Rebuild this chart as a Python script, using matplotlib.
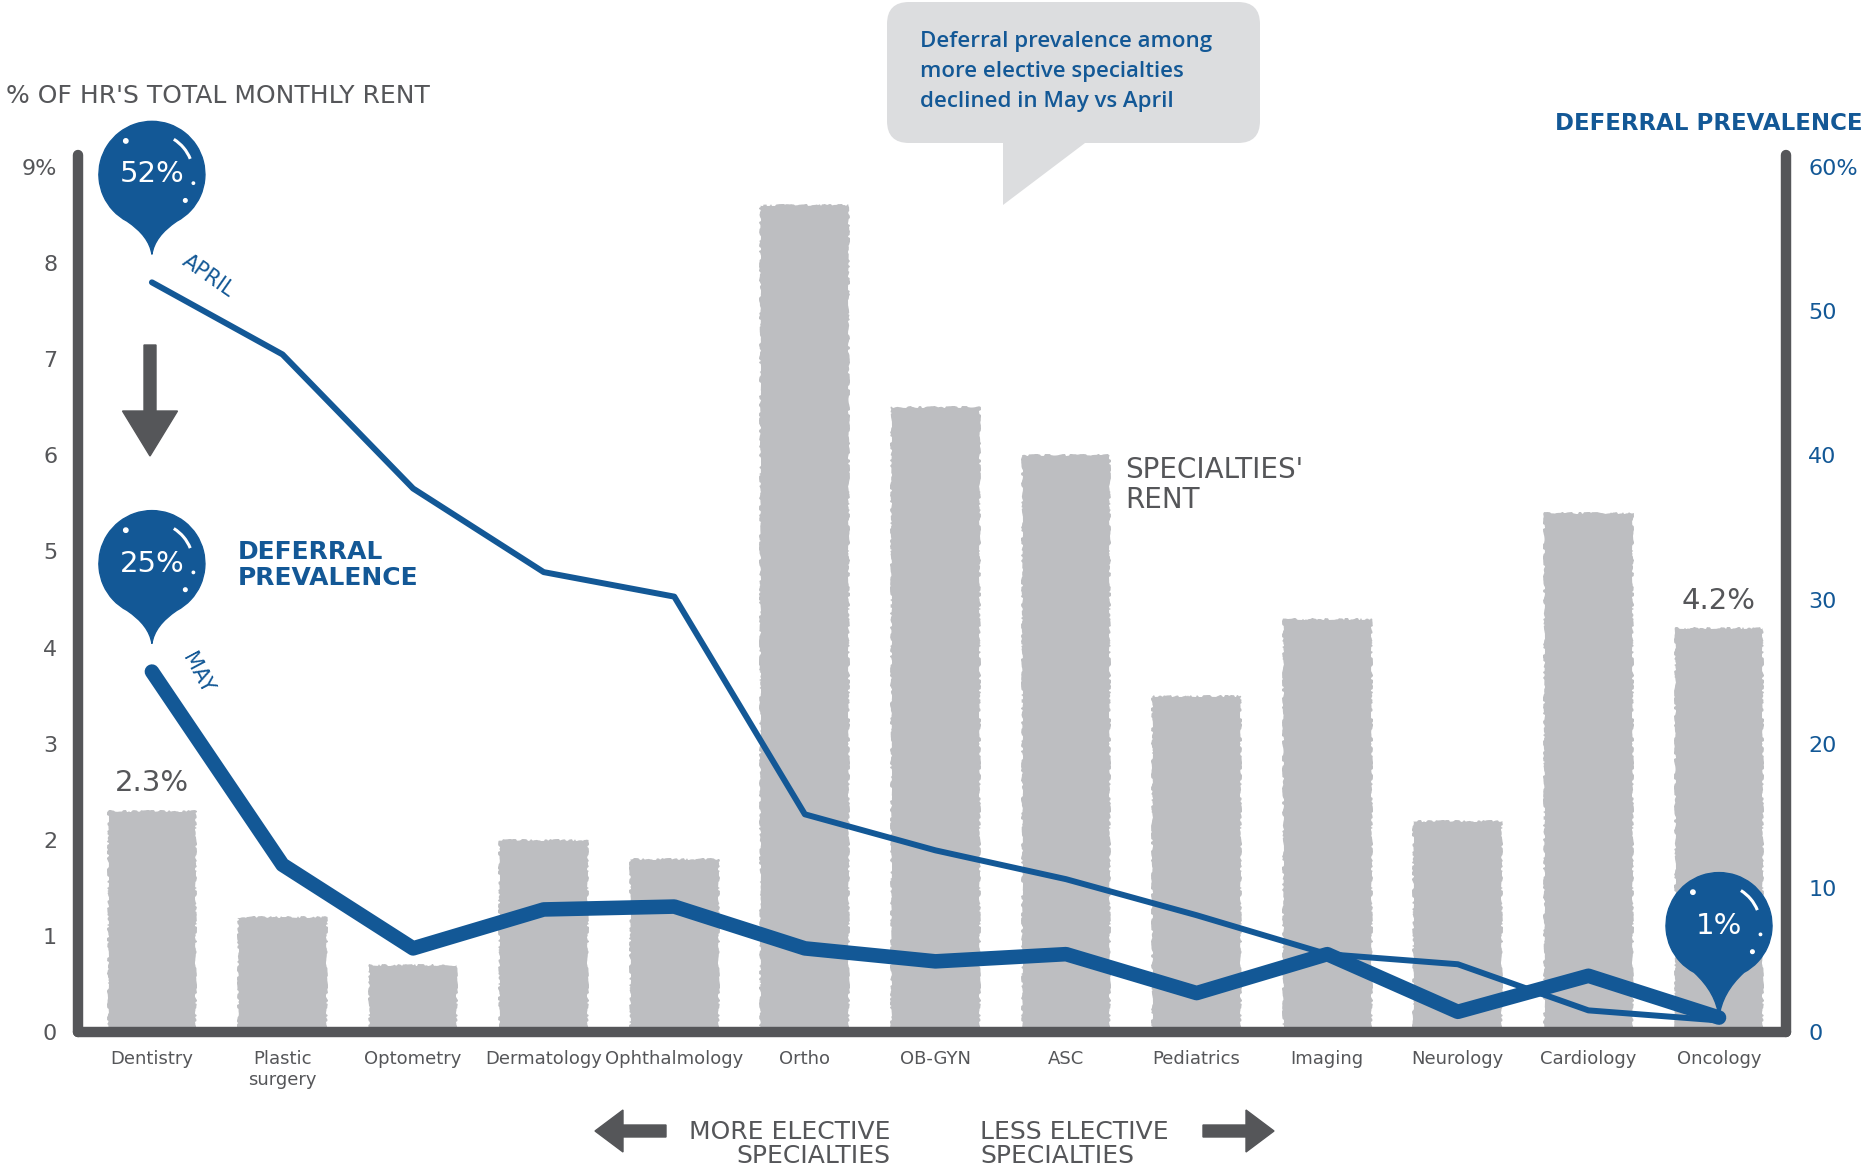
import matplotlib
matplotlib.use("Agg")
import numpy as np
import matplotlib.pyplot as plt
import matplotlib.transforms as mtransforms
from matplotlib.path import Path
from matplotlib.patches import PathPatch, FancyBboxPatch, Polygon, FancyArrow, Arc, Circle

# ---------------------------------------------------------------- data
specialties = ["Dentistry", "Plastic\nsurgery", "Optometry", "Dermatology",
               "Ophthalmology", "Ortho", "OB-GYN", "ASC", "Pediatrics",
               "Imaging", "Neurology", "Cardiology", "Oncology"]
rent_share = [2.3, 1.2, 0.7, 2.0, 1.8, 8.6, 6.5, 6.0, 3.5, 4.3, 2.2, 5.4, 4.2]
deferral_april = [52, 47.0, 37.7, 31.9, 30.2, 15.1, 12.6, 10.6, 8.1, 5.4, 4.7, 1.5, 0.8]
deferral_may = [25, 11.6, 5.8, 8.5, 8.7, 5.8, 4.9, 5.4, 2.7, 5.4, 1.4, 3.9, 1]
rent_ticks = list(range(10))
rent_tick_labels = ["0", "1", "2", "3", "4", "5", "6", "7", "8", "9%"]
deferral_ticks = [0, 10, 20, 30, 40, 50, 60]
deferral_tick_labels = ["0", "10", "20", "30", "40", "50", "60%"]

# ---------------------------------------------------------------- style
BLUE = "#135896"
DARK = "#555659"
BAR = "#BDBEC1"
BOX = "#DCDDDF"
plt.rcParams["font.family"] = ["DejaVu Sans"]

W, H = 1867, 1173
fig = plt.figure(figsize=(W / 100, H / 100), dpi=100)


def fx(px):
    return px / W


def fy(py):
    return 1 - py / H


ax = fig.add_axes([fx(78), fy(1032), fx(1786) - fx(78), fy(155) - fy(1032)])
x = np.arange(len(specialties))
ax.set_xlim(-0.566, 12.513)
rent_top = 9.125
ax.set_ylim(0, rent_top)

bars = ax.bar(x, rent_share, width=0.68, color=BAR, zorder=2)
for b in bars:
    b.set_sketch_params(scale=1.0, length=25, randomness=30)

for s in ["top", "right"]:
    ax.spines[s].set_visible(False)
for s in ["left", "bottom"]:
    ax.spines[s].set_linewidth(7.5)
    ax.spines[s].set_color(DARK)
    ax.spines[s].set_capstyle("round")
    ax.spines[s].set_zorder(5)

ax.set_yticks(rent_ticks, rent_tick_labels)
ax.set_xticks(x, specialties)
ax.tick_params(axis="y", length=0, pad=15, labelsize=16, labelcolor=DARK)
ax.tick_params(axis="x", length=0, pad=13, labelsize=13, labelcolor=DARK)
for lab in ax.get_xticklabels():
    lab.set_multialignment("center")

# value labels on first and last bars
for i in (0, len(rent_share) - 1):
    ax.annotate(f"{rent_share[i]}%", xy=(x[i], rent_share[i]), xytext=(0, 20),
                textcoords="offset points", ha="center", va="center",
                fontsize=21, color=DARK)

# ---------------------------------------------------------------- deferral lines
ax2 = ax.twinx()
ax2.set_ylim(0, rent_top * 60 / 9)
for s in ["top", "left", "bottom"]:
    ax2.spines[s].set_visible(False)
ax2.spines["right"].set_linewidth(7.5)
ax2.spines["right"].set_color(DARK)
ax2.spines["right"].set_capstyle("round")
ax2.set_yticks(deferral_ticks, deferral_tick_labels)
ax2.tick_params(axis="y", length=0, pad=16, labelsize=16, labelcolor=BLUE)

ax2.plot(x, deferral_may, color=BLUE, lw=10.5, solid_capstyle="round",
         solid_joinstyle="round", zorder=3)
ax2.plot(x, deferral_april, color=BLUE, lw=4.3, solid_capstyle="round",
         solid_joinstyle="round", zorder=4)


def pin_outline(r, c):
    """Teardrop outline in inches, tip at the origin, bulb centred at (0, c)."""
    a_r, a_l = -62, 242
    arc = Path.arc(a_r, a_l)
    verts = arc.vertices * r + np.array([0, c])
    pr = (r * np.cos(np.deg2rad(a_r)), c + r * np.sin(np.deg2rad(a_r)))
    pl = (r * np.cos(np.deg2rad(a_l)), c + r * np.sin(np.deg2rad(a_l)))
    v = [(0, 0), (0.05 * r, pr[1] * 0.55), pr]
    cd = [Path.MOVETO, Path.CURVE3, Path.CURVE3]
    v += [tuple(p) for p in verts[1:]]
    cd += list(arc.codes[1:])
    v += [(-0.05 * r, pl[1] * 0.55), (0, 0), (0, 0)]
    cd += [Path.CURVE3, Path.CURVE3, Path.CLOSEPOLY]
    return Path(v, cd)


def pin(axis, xv, yv, text, gap=0.28, r=0.53, c=0.80):
    trans = (mtransforms.Affine2D().translate(0, gap) + fig.dpi_scale_trans
             + mtransforms.ScaledTranslation(xv, yv, axis.transData))
    axis.add_patch(PathPatch(pin_outline(r, c), facecolor=BLUE, edgecolor=BLUE,
                             lw=1, transform=trans, clip_on=False, zorder=6))
    axis.add_patch(Arc((0, c), 1.56 * r, 1.56 * r, theta1=22, theta2=58, color="white",
                       lw=2.2, transform=trans, clip_on=False, zorder=7))
    for ang, rad in ((128, 0.022), (-12, 0.012), (-38, 0.018)):
        axis.add_patch(Circle((0.8 * r * np.cos(np.deg2rad(ang)),
                               c + 0.8 * r * np.sin(np.deg2rad(ang))), rad,
                              color="white", transform=trans, clip_on=False, zorder=7))
    axis.annotate(text, xy=(xv, yv), xytext=(0, (gap + c) * 72),
                  textcoords="offset points", ha="center", va="center",
                  fontsize=21, color="white", zorder=8, annotation_clip=False)


pin(ax2, x[0], deferral_april[0], f"{deferral_april[0]}%")
pin(ax2, x[0], deferral_may[0], f"{deferral_may[0]}%")
pin(ax2, x[-1], deferral_may[-1], f"{deferral_may[-1]}%", gap=0.0, c=0.92)

# ---------------------------------------------------------------- titles and notes
fig.text(fx(6), fy(96), "% OF HR'S TOTAL MONTHLY RENT", fontsize=18, color=DARK,
         ha="left", va="center")
fig.text(fx(1862), fy(123), "DEFERRAL PREVALENCE", fontsize=16.5, color=BLUE,
         ha="right", va="center", fontweight="bold")
fig.text(fx(208), fy(276), "APRIL", fontsize=15, color=BLUE, rotation=-35,
         ha="center", va="center")
fig.text(fx(197), fy(673), "MAY", fontsize=15, color=BLUE, rotation=-62,
         ha="center", va="center")
fig.text(fx(238), fy(565), "DEFERRAL\nPREVALENCE", fontsize=18, color=BLUE,
         ha="left", va="center", linespacing=1.1, fontweight="bold")
fig.text(fx(1125), fy(485), "SPECIALTIES'\nRENT", fontsize=20, color=DARK,
         ha="left", va="center", linespacing=1.05)

# drop arrow between April and May
fig.patches.append(FancyArrow(1.50, (H - 345) / 100, 0, -1.11, width=0.12,
                              head_width=0.55, head_length=0.45,
                              length_includes_head=True, color=DARK,
                              transform=fig.dpi_scale_trans, figure=fig))

# elective direction arrows
fig.patches.append(FancyArrow(6.66, (H - 1131) / 100, -0.71, 0, width=0.12,
                              head_width=0.42, head_length=0.28,
                              length_includes_head=True, color=DARK,
                              transform=fig.dpi_scale_trans, figure=fig))
fig.patches.append(FancyArrow(12.03, (H - 1131) / 100, 0.71, 0, width=0.12,
                              head_width=0.42, head_length=0.28,
                              length_includes_head=True, color=DARK,
                              transform=fig.dpi_scale_trans, figure=fig))
fig.text(fx(890), fy(1144), "MORE ELECTIVE\nSPECIALTIES", fontsize=18, color=DARK,
         ha="right", va="center", multialignment="right", linespacing=1.0)
fig.text(fx(980), fy(1144), "LESS ELECTIVE\nSPECIALTIES", fontsize=18, color=DARK,
         ha="left", va="center", multialignment="left", linespacing=1.0)

# speech box
box = FancyBboxPatch((8.87, (H - 143) / 100), 3.73, 1.41,
                     boxstyle="round,pad=0,rounding_size=0.22",
                     facecolor=BOX, edgecolor="none",
                     transform=fig.dpi_scale_trans, figure=fig)
fig.patches.append(box)
fig.patches.append(Polygon([(10.03, (H - 140) / 100), (10.03, (H - 205) / 100),
                            (10.89, (H - 140) / 100)], closed=True,
                           facecolor=BOX, edgecolor="none",
                           transform=fig.dpi_scale_trans, figure=fig))
for ty, line in zip((42, 71, 102), ("Deferral prevalence among",
                                    "more elective specialties",
                                    "declined in May vs April")):
    fig.text(fx(920), fy(ty), line, fontsize=16, color=BLUE, ha="left", va="center",
             family=["Open Sans", "DejaVu Sans"], fontweight="semibold")

fig.savefig("out.png", dpi=100)
